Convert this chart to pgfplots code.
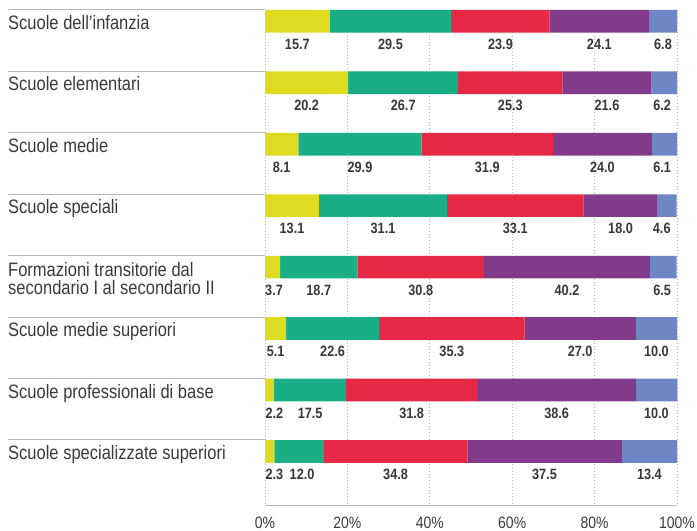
\documentclass[border=0pt]{standalone}
\usepackage{pgfplots}
\pgfplotsset{compat=1.18}
\usepackage{pgfplotstable}
\usepackage{fontspec}
\setmainfont{Liberation Sans}[FakeStretch=0.85]
\definecolor{cY}{HTML}{DEDB20}
\definecolor{cG}{HTML}{1AAE87}
\definecolor{cR}{HTML}{E52844}
\definecolor{cP}{HTML}{823A8B}
\definecolor{cB}{HTML}{6E87C4}
\definecolor{txt}{HTML}{3A3A3A}
\definecolor{vtxt}{HTML}{383838}
\definecolor{sep}{HTML}{B8B8B8}

% y = bar centre (px from top), yl = baseline of value labels, pa..pe = label positions (%)
\pgfplotstableread{
y     yl    a    b    c    d    e    pa    pb     pc     pd     pe
21.35 49.5  15.7 29.5 23.9 24.1 6.8  7.85  30.45  57.15  81.15  96.6
82.8  110.9 20.2 26.7 25.3 21.6 6.2  10.1  33.55  59.55  83.0   96.4
144.2 172.4 8.1  29.9 31.9 24.0 6.1  4.05  23.05  53.95  81.9   96.4
205.6 233.8 13.1 31.1 33.1 18.0 4.6  6.55  28.65  60.75  86.3   96.3
267.1 295.3 3.7  18.7 30.8 40.2 6.5  2.2   13.05  37.8   73.3   96.4
328.5 356.7 5.1  22.6 35.3 27.0 10.0 2.6   16.4   45.35  76.5   95.0
390.0 418.1 2.2  17.5 31.8 38.6 10.0 2.3   10.95  35.6   70.8   95.0
451.4 479.6 2.3  12.0 34.8 37.5 13.4 2.3   9.0    31.7   67.85  93.3
}\data

\pgfplotsset{
  base/.style={
    scale only axis, width=412bp, height=495bp,
    at={(265bp,26bp)}, anchor=south west,
    xmin=0, xmax=100, ymin=10, ymax=505, y dir=reverse,
    clip=false,
  },
  lab/.style={only marks, mark=none, nodes near coords, point meta=explicit symbolic,
    every node near coord/.append style={anchor=base, inner sep=0pt,
      font=\fontsize{15}{15}\selectfont\bfseries, text=vtxt}},
}

\begin{document}
\begin{tikzpicture}
\useasboundingbox (0,0) rectangle (697bp,531bp);
% separator lines and category labels
\foreach \yy in {10,71.43,132.86,194.29,255.71,317.14,378.57,440}{
  \draw[sep, line width=1bp] (8bp,{(531-\yy)*1bp}) -- (265bp,{(531-\yy)*1bp});
}
\begin{scope}[every node/.style={anchor=base west, inner sep=0pt, text=txt,
    font=\fontsize{19.5}{19.5}\selectfont}]
\node at (8bp,{(531-29.5)*1bp}) {Scuole dell’infanzia};
\node at (8bp,{(531-90.9)*1bp}) {Scuole elementari};
\node at (8bp,{(531-152.4)*1bp}) {Scuole medie};
\node at (8bp,{(531-213.8)*1bp}) {Scuole speciali};
\node at (8bp,{(531-276.5)*1bp}) {Formazioni transitorie dal};
\node at (8bp,{(531-294.0)*1bp}) {secondario I al secondario II};
\node at (8bp,{(531-336.7)*1bp}) {Scuole medie superiori};
\node at (8bp,{(531-398.1)*1bp}) {Scuole professionali di base};
\node at (8bp,{(531-459.5)*1bp}) {Scuole specializzate superiori};
\end{scope}

\begin{axis}[base,
  xbar stacked, bar width=22.7,
  xmajorgrids,
  grid style={sep, line width=0.8bp, dash pattern=on 0.8bp off 2.4bp},
  axis line style={draw=none},
  major tick length=0pt,
  ytick=\empty,
  xtick={0,20,40,60,80,100},
  xticklabel={\pgfmathprintnumber{\tick}\%},
  /pgf/number format/assume math mode=true,
  xticklabel style={anchor=base, yshift=-23bp, inner sep=0pt,
    font=\fontsize{16.5}{16.5}\selectfont, text=txt},
]
\addplot[fill=cY, draw=none] table[x=a, y=y] {\data};
\addplot[fill=cG, draw=none] table[x=b, y=y] {\data};
\addplot[fill=cR, draw=none] table[x=c, y=y] {\data};
\addplot[fill=cP, draw=none] table[x=d, y=y] {\data};
\addplot[fill=cB, draw=none] table[x=e, y=y] {\data};
\draw[sep, line width=1bp] (axis cs:0,505) -- (axis cs:100,505);
\end{axis}

\begin{axis}[base, hide axis]
\addplot[lab] table[x=pa, y=yl, meta=a] {\data};
\addplot[lab] table[x=pb, y=yl, meta=b] {\data};
\addplot[lab] table[x=pc, y=yl, meta=c] {\data};
\addplot[lab] table[x=pd, y=yl, meta=d] {\data};
\addplot[lab] table[x=pe, y=yl, meta=e] {\data};
\end{axis}
\end{tikzpicture}
\end{document}
